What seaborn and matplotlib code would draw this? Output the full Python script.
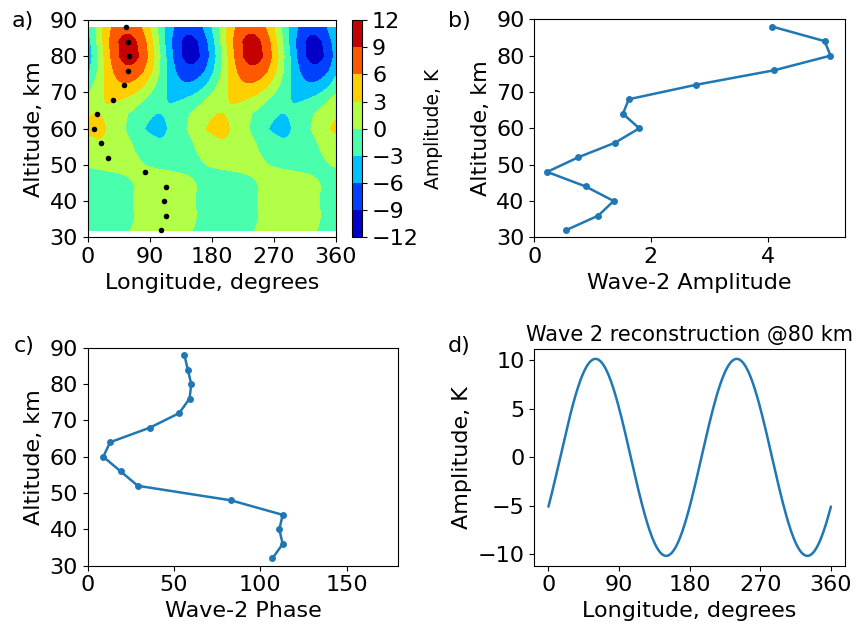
import numpy as np
import pandas as pd
import matplotlib
matplotlib.use("Agg")
import matplotlib.pyplot as plt
import seaborn as sns

# wave-2 fit results
altitude = [32, 36, 40, 44, 48, 52, 56, 60, 64, 68, 72, 76, 80, 84, 88]
amplitude = [0.55, 1.10, 1.36, 0.88, 0.22, 0.75, 1.38, 1.80, 1.52, 1.62, 2.78, 4.12, 5.08, 4.98, 4.08]
phase = [107, 113, 111, 113, 83, 29, 19, 9, 13, 36, 53, 59, 60, 58, 56]
levels = [-12, -9, -6, -3, 0, 3, 6, 9, 12]
lon_ticks = [0, 90, 180, 270, 360]
alt_ticks = [30, 40, 50, 60, 70, 80, 90]
rec_ticks = [-10, -5, 0, 5, 10]

black = {"text.color": "black", "axes.labelcolor": "black", "axes.edgecolor": "black",
         "xtick.color": "black", "ytick.color": "black"}
sns.set_style("ticks", rc=black)
plt.rcParams["font.family"] = ["DejaVu Sans"]
plt.rcParams["font.size"] = 16

df = pd.DataFrame({"alt": altitude, "amp": amplitude, "phase": phase})

# reconstruct the wave-2 field on a lon/alt grid
lon = np.linspace(0, 360, 361)
amp2 = 2 * np.array(amplitude)[:, None]
field = amp2 * np.cos(2 * np.deg2rad(lon[None, :] - np.array(phase)[:, None]))

fig = plt.figure(figsize=(8.6, 6.34), dpi=100)
ax_a = fig.add_axes([0.102, 0.6257, 0.2884, 0.3427])
cax = fig.add_axes([0.409, 0.6257, 0.0123, 0.3427])
ax_b = fig.add_axes([0.6213, 0.6257, 0.3613, 0.3438])
ax_c = fig.add_axes([0.102, 0.1077, 0.3612, 0.3438])
ax_d = fig.add_axes([0.6213, 0.1077, 0.3613, 0.3418])

# a) contour of the reconstruction + phase dots
cf = ax_a.contourf(lon, altitude, field, levels=levels, cmap="jet")
sns.scatterplot(data=df, x="phase", y="alt", color="black", s=16, linewidth=0, ax=ax_a)
ax_a.set_xlim(0, 360)
ax_a.set_ylim(30, 90)
ax_a.set_xticks(lon_ticks)
ax_a.set_yticks(alt_ticks)
ax_a.set_xlabel("Longitude, degrees")
ax_a.set_ylabel("Altitude, km")
cb = fig.colorbar(cf, cax=cax, ticks=levels)
cb.set_label("Amplitude, K", fontsize=13.5)

line_kw = dict(sort=False, estimator=None, orient="y", marker="o",
               markersize=5, markeredgewidth=0, linewidth=1.8)

# b) amplitude profile
sns.lineplot(data=df, x="amp", y="alt", ax=ax_b, **line_kw)
ax_b.set_xlim(0, 5.33)
ax_b.set_ylim(30, 90)
ax_b.set_yticks(alt_ticks)
ax_b.set_xlabel("Wave-2 Amplitude")
ax_b.set_ylabel("Altitude, km")

# c) phase profile
sns.lineplot(data=df, x="phase", y="alt", ax=ax_c, **line_kw)
ax_c.set_xlim(0, 180)
ax_c.set_ylim(30, 90)
ax_c.set_yticks(alt_ticks)
ax_c.set_xlabel("Wave-2 Phase")
ax_c.set_ylabel("Altitude, km")

# d) reconstruction at 80 km
i80 = altitude.index(80)
rec = 2 * amplitude[i80] * np.cos(2 * np.deg2rad(lon - phase[i80]))
sns.lineplot(x=lon, y=rec, linewidth=1.8, ax=ax_d)
ax_d.set_xticks(lon_ticks)
ax_d.set_yticks(rec_ticks)
ax_d.set_xlabel("Longitude, degrees")
ax_d.set_ylabel("Amplitude, K")
ax_d.set_title("Wave 2 reconstruction @80 km", fontsize=15)

fig.text(0.014, 1 - 21 / 634, "a)", va="center")
fig.text(0.521, 1 - 21 / 634, "b)", va="center")
fig.text(0.016, 1 - 346 / 634, "c)", va="center")
fig.text(0.521, 1 - 346 / 634, "d)", va="center")

fig.savefig("out.png", dpi=100)
